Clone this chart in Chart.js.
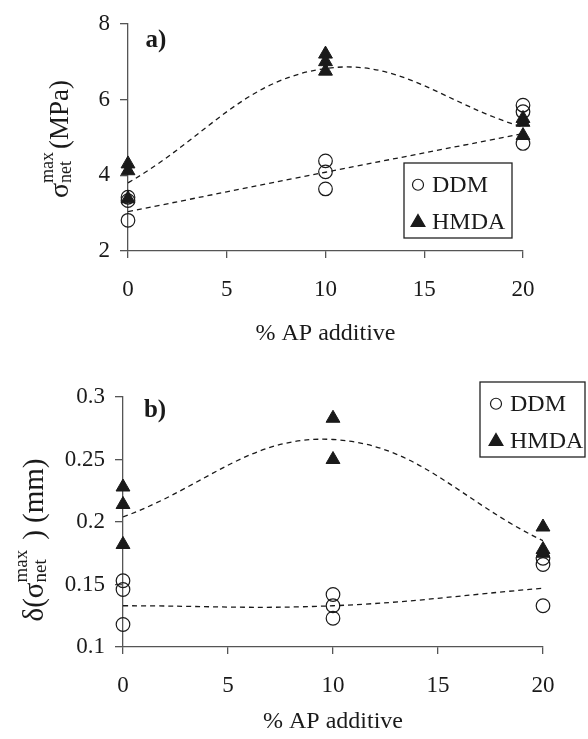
<!DOCTYPE html>
<html>
<head>
<meta charset="utf-8">
<script src="https://cdn.jsdelivr.net/npm/chart.js@4.4.1/dist/chart.umd.min.js"></script>
<style>
  html, body { margin: 0; padding: 0; background: #fff; }
  #wrap { position: relative; width: 588px; height: 739px; }
  canvas { position: absolute; left: 0; }
  #chartA { top: 0; }
  #chartB { top: 370px; }
</style>
</head>
<body>
<div id="wrap">
  <canvas id="chartA" width="588" height="370"></canvas>
  <canvas id="chartB" width="588" height="369"></canvas>
</div>
<script>
// Values: three specimens per additive level
const additive = [0, 10, 20];
const xTicks = [0, 5, 10, 15, 20];

// a) peak net stress (MPa)
const ddmStress = [[3.42, 3.33, 2.81], [4.38, 4.09, 3.64], [5.85, 5.68, 4.84]];
const hmdaStress = [[4.30, 4.12, 3.38], [7.20, 7.00, 6.75], [5.50, 5.40, 5.05]];
const ddmStressFit = [3.04, 4.08, 5.10];
const hmdaStressFit = [3.80, 6.82, 5.27];
const yTicksA = [2, 4, 6, 8];

// b) displacement at peak stress (mm)
const ddmDisp = [[0.153, 0.146, 0.118], [0.142, 0.133, 0.123], [0.171, 0.166, 0.133]];
const hmdaDisp = [[0.228, 0.214, 0.182], [0.283, 0.250], [0.196, 0.178, 0.175]];
const ddmDispFit = [0.133, 0.133, 0.147];
const hmdaDispFit = [0.204, 0.266, 0.185];
const yTicksB = [0.1, 0.15, 0.2, 0.25, 0.3];

const SERIF = '"Liberation Serif", "Times New Roman", serif';
const INK = '#1a1a1a';
const AXIS = '#555';

function toPoints(groups) {
  const pts = [];
  groups.forEach((vals, i) => vals.forEach(v => pts.push({ x: additive[i], y: v })));
  return pts;
}

function fitPoints(vals) {
  return vals.map((v, i) => ({ x: additive[i], y: v }));
}

function makeDatasets(ddm, hmda, ddmFit, hmdaFit) {
  return [
    {
      label: 'HMDA', data: toPoints(hmda), pointStyle: 'triangle', pointRadius: 8,
      backgroundColor: INK, borderColor: INK, borderWidth: 1, order: 0, clip: false
    },
    {
      label: 'DDM', data: toPoints(ddm), pointStyle: 'circle', pointRadius: 6.8,
      backgroundColor: 'rgba(0,0,0,0)', borderColor: INK, borderWidth: 1.2, order: 1, clip: false
    },
    {
      label: 'HMDA fit', data: fitPoints(hmdaFit), showLine: true, tension: 0.4,
      borderColor: INK, borderWidth: 1.3, borderDash: [5, 4], pointRadius: 0, order: 2
    },
    {
      label: 'DDM fit', data: fitPoints(ddmFit), showLine: true, tension: 0.4,
      borderColor: INK, borderWidth: 1.3, borderDash: [5, 4], pointRadius: 0, order: 3
    }
  ];
}

function makeScales(o) {
  return {
    x: {
      type: 'linear', min: 0, max: 20,
      afterBuildTicks: s => { s.ticks = xTicks.map(v => ({ value: v })); },
      afterFit: s => { s.height = o.xHeight; },
      grid: { drawOnChartArea: false, tickLength: 7, color: AXIS, lineWidth: 1.3 },
      border: { color: AXIS, width: 1.3 },
      ticks: { font: { family: SERIF, size: 23 }, color: INK, padding: o.xPad, maxRotation: 0 },
      title: {
        display: true, text: '% AP additive', color: INK,
        font: { family: SERIF, size: 24 }, padding: { top: 0, bottom: o.titlePad }
      }
    },
    y: {
      type: 'linear', min: o.yTicks[0], max: o.yTicks[o.yTicks.length - 1],
      afterBuildTicks: s => { s.ticks = o.yTicks.map(v => ({ value: v })); },
      afterFit: s => { s.width = o.yWidth; },
      grid: { drawOnChartArea: false, tickLength: 8, color: AXIS, lineWidth: 1.3 },
      border: { color: AXIS, width: 1.3 },
      ticks: { font: { family: SERIF, size: 23 }, color: INK, padding: 10, callback: v => String(v) }
    }
  };
}

// rotated axis title with stacked super/subscript
function drawRotated(ctx, parts, cx, cy) {
  let total = 0;
  const widths = parts.map(p => {
    ctx.font = p.size + 'px ' + SERIF;
    const w = p.stack
      ? Math.max(...p.stack.map(s => ctx.measureText(s).width)) + (p.gap || 0)
      : ctx.measureText(p.text).width;
    total += w;
    return w;
  });
  ctx.save();
  ctx.translate(cx, cy);
  ctx.rotate(-Math.PI / 2);
  ctx.textAlign = 'left';
  ctx.textBaseline = 'alphabetic';
  let x = -total / 2;
  parts.forEach((p, i) => {
    ctx.font = p.size + 'px ' + SERIF;
    if (p.stack) {
      ctx.fillText(p.stack[0], x, p.up);
      ctx.fillText(p.stack[1], x, p.down);
    } else {
      ctx.fillText(p.text, x, 0);
    }
    x += widths[i];
  });
  ctx.restore();
}

const annotate = {
  id: 'annotate',
  afterDraw(chart, args, opts) {
    const ctx = chart.ctx;
    ctx.save();
    ctx.fillStyle = INK;

    // panel letter
    ctx.font = 'bold 25px ' + SERIF;
    ctx.textAlign = 'center';
    ctx.textBaseline = 'middle';
    ctx.fillText(opts.panel.text, opts.panel.x, opts.panel.y);

    drawRotated(ctx, opts.yTitle.parts, opts.yTitle.x, opts.yTitle.y);

    // boxed legend
    const L = opts.legend;
    ctx.strokeStyle = '#222';
    ctx.lineWidth = 1.3;
    ctx.strokeRect(L.x, L.y, L.w, L.h);
    const rows = [
      { label: 'DDM', style: 'circle', radius: 5.5, fill: 'rgba(0,0,0,0)', cy: L.y + L.h * 0.29 },
      { label: 'HMDA', style: 'triangle', radius: 8, fill: INK, cy: L.y + L.h * 0.78 }
    ];
    ctx.font = '24px ' + SERIF;
    ctx.textAlign = 'left';
    ctx.textBaseline = 'middle';
    rows.forEach(r => {
      ctx.fillStyle = r.fill;
      ctx.strokeStyle = INK;
      ctx.lineWidth = 1.2;
      Chart.helpers.drawPoint(ctx, { pointStyle: r.style, radius: r.radius, rotation: 0, borderWidth: 1.2 },
        L.x + L.markerX, r.cy + (r.style === 'triangle' ? 1 : 0));
      ctx.fillStyle = INK;
      ctx.fillText(r.label, L.x + L.textX, r.cy + 1);
    });
    ctx.restore();
  }
};

function buildChart(id, datasets, scales, padding, notes) {
  return new Chart(document.getElementById(id), {
    type: 'scatter',
    data: { datasets: datasets },
    options: {
      responsive: false,
      animation: false,
      layout: { padding: padding },
      scales: scales,
      plugins: {
        legend: { display: false },
        tooltip: { enabled: false },
        annotate: notes
      }
    },
    plugins: [annotate]
  });
}

buildChart('chartA',
  makeDatasets(ddmStress, hmdaStress, ddmStressFit, hmdaStressFit),
  makeScales({ yTicks: yTicksA, yWidth: 128, xHeight: 119, xPad: 18, titlePad: 22 }),
  { top: 21, right: 65, left: 0, bottom: 0 },
  {
    panel: { text: 'a)', x: 156, y: 41 },
    yTitle: {
      x: 68, y: 139,
      parts: [
        { text: 'σ', size: 28 },
        { stack: ['max', 'net'], size: 18, up: -15, down: 3, gap: 3 },
        { text: '(MPa)', size: 27 }
      ]
    },
    legend: { x: 404, y: 163, w: 108, h: 75, markerX: 14, textX: 28 }
  });

buildChart('chartB',
  makeDatasets(ddmDisp, hmdaDisp, ddmDispFit, hmdaDispFit),
  makeScales({ yTicks: yTicksB, yWidth: 123, xHeight: 92, xPad: 18, titlePad: 3 }),
  { top: 27, right: 45, left: 0, bottom: 0 },
  {
    panel: { text: 'b)', x: 155, y: 41 },
    yTitle: {
      x: 43, y: 170,
      parts: [
        { text: 'δ(σ', size: 29 },
        { stack: ['max', 'net'], size: 19, up: -16, down: 3, gap: 10 },
        { text: ') (mm)', size: 29 }
      ]
    },
    legend: { x: 480, y: 12, w: 105, h: 75, markerX: 16, textX: 30 }
  });
</script>
</body>
</html>
